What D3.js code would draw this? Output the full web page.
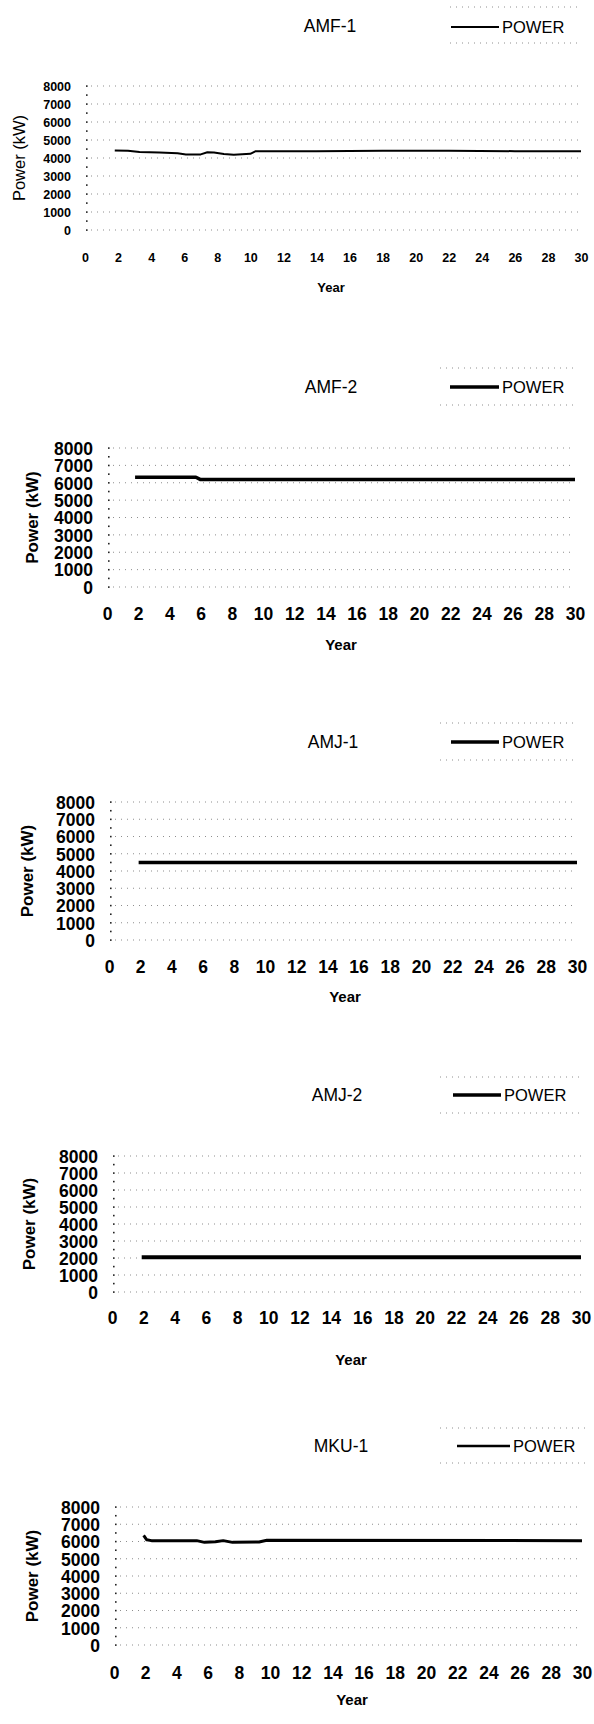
<!DOCTYPE html>
<html><head><meta charset="utf-8">
<script src="https://cdn.jsdelivr.net/npm/d3@7"></script>
<style>
html,body{margin:0;padding:0;background:#fff;}
svg{display:block;}
text{font-family:"Liberation Sans",Arial,sans-serif;fill:#000;}
</style></head>
<body>
<svg id="chart" width="594" height="1724"></svg>
<script>
// ---- data ----
const xTicks = [0,2,4,6,8,10,12,14,16,18,20,22,24,26,28,30];
const yTicks = [0,1000,2000,3000,4000,5000,6000,7000,8000];
const titles = ["AMF-1","AMF-2","AMJ-1","AMJ-2","MKU-1"];
const seriesName = "POWER";
const xLabel = "Year";
const yLabel = "Power (kW)";

const amf1Year  = [1.8, 2.6, 3.3, 4.5, 5.6, 6.1, 7.0, 7.4, 7.8, 8.4, 9.0, 10.0, 10.3, 14, 18, 22, 26, 30];
const amf1Power = [4420,4400,4330,4300,4260,4200,4200,4320,4300,4220,4180,4230,4370,4380,4400,4400,4380,4370];
const amf2Year  = [1.8, 5.7, 6.0, 30];
const amf2Power = [6320,6320,6180,6180];
const amj1Year  = [1.9, 30];
const amj1Power = [4500,4500];
const amj2Year  = [1.9, 30];
const amj2Power = [2050,2050];
const mku1Year  = [1.9, 2.1, 2.4, 5.3, 5.8, 6.5, 7.0, 7.6, 9.3, 9.8, 30];
const mku1Power = [6350,6100,6050,6050,5950,5980,6050,5950,5970,6070,6050];

const seriesYears = [amf1Year, amf2Year, amj1Year, amj2Year, mku1Year];
const seriesPower = [amf1Power, amf2Power, amj1Power, amj2Power, mku1Power];

// ---- layout (positions / styles only) ----
const layout = [
  {x0:85,  x30:581, y0:230,  y8k:86,   tX:330, tY:26,   lL:451, lR:499, lY:27,   bT:7,    bB:43,   bL:450, bR:578, tick:12.5, yr:13, yrX:331, yrY:287,  ytX:19, ytBold:false, ytSize:16.5, lw:2,   llw:2,   tickGap:27},
  {x0:107, x30:575, y0:587,  y8k:448,  tX:331, tY:387,  lL:450, lR:499, lY:387,  bT:368,  bB:405,  bL:440, bR:575, tick:17.5, yr:15, yrX:341, yrY:645,  ytX:32, ytBold:true,  ytSize:17,   lw:3.5, llw:3.5, tickGap:27},
  {x0:109, x30:577, y0:940,  y8k:802,  tX:333, tY:742,  lL:451, lR:499, lY:742,  bT:723,  bB:760,  bL:440, bR:577, tick:17.5, yr:15, yrX:345, yrY:997,  ytX:27, ytBold:true,  ytSize:17,   lw:3.5, llw:3.5, tickGap:27},
  {x0:112, x30:581, y0:1292, y8k:1156, tX:337, tY:1095, lL:453, lR:501, lY:1095, bT:1077, bB:1113, bL:440, bR:579, tick:17.5, yr:15, yrX:351, yrY:1360, ytX:29, ytBold:true,  ytSize:17,   lw:4,   llw:3.5, tickGap:26},
  {x0:114, x30:582, y0:1645, y8k:1507, tX:341, tY:1446, lL:457, lR:510, lY:1446, bT:1428, bB:1463, bL:440, bR:585, tick:17.5, yr:15, yrX:352, yrY:1700, ytX:32, ytBold:true,  ytSize:17,   lw:3,   llw:2.5, tickGap:28}
];

const svg = d3.select("#chart");

layout.forEach((L, i) => {
  const g = svg.append("g");
  const x = d3.scaleLinear().domain([0,30]).range([L.x0, L.x30]);
  const y = d3.scaleLinear().domain([0,8000]).range([L.y0, L.y8k]);

  // gridlines
  g.selectAll("line.grid").data(yTicks).join("line")
    .attr("x1", x(0) + 6).attr("x2", x(30))
    .attr("y1", d => y(d)).attr("y2", d => y(d))
    .attr("stroke", "#333").attr("stroke-width", 1)
    .attr("stroke-dasharray", "1,5").attr("opacity", 0.55);

  // dotted y axis (dots every 500)
  g.selectAll("rect.ydot").data(y.ticks(16)).join("rect")
    .attr("x", x(0) + 1).attr("y", d => y(d) - 0.7)
    .attr("width", 1.6).attr("height", 1.6).attr("fill", "#222");

  // y tick labels
  const yAxis = d3.axisLeft(y).tickValues(yTicks).tickSize(0).tickPadding(0).tickFormat(d3.format("d"));
  const ya = g.append("g").attr("transform", `translate(${x(0) - 14},0)`).call(yAxis);
  ya.select(".domain").remove();
  ya.selectAll("text").attr("font-size", L.tick).attr("font-weight", "bold")
    .attr("font-family", '"Liberation Sans",Arial,sans-serif').attr("fill", "#000").attr("dy", "0.36em");

  // x tick labels
  const xAxis = d3.axisBottom(x).tickValues(xTicks).tickSize(0).tickPadding(0).tickFormat(d3.format("d"));
  const xa = g.append("g").attr("transform", `translate(0,${L.y0 + L.tickGap})`).call(xAxis);
  xa.select(".domain").remove();
  xa.selectAll("text").attr("font-size", L.tick).attr("font-weight", "bold")
    .attr("font-family", '"Liberation Sans",Arial,sans-serif').attr("fill", "#000").attr("dy", "0.36em").attr("y", 0);

  // axis titles
  g.append("text").attr("x", L.yrX).attr("y", L.yrY).attr("dy", "0.36em")
    .attr("text-anchor", "middle").attr("font-size", L.yr).attr("font-weight", "bold").text(xLabel);
  g.append("text")
    .attr("transform", `translate(${L.ytX},${(L.y0 + L.y8k) / 2}) rotate(-90)`)
    .attr("dy", "0.36em").attr("text-anchor", "middle")
    .attr("font-size", L.ytSize).attr("font-weight", L.ytBold ? "bold" : "normal").text(yLabel);

  // title
  g.append("text").attr("x", L.tX).attr("y", L.tY).attr("dy", "0.36em")
    .attr("text-anchor", "middle").attr("font-size", 17.5).text(titles[i]);

  // legend
  [L.bT, L.bB].forEach(by => {
    g.append("line").attr("x1", L.bL).attr("x2", L.bR).attr("y1", by).attr("y2", by)
      .attr("stroke", "#444").attr("stroke-dasharray", "1,5").attr("opacity", 0.6);
  });
  g.append("line").attr("x1", L.lL).attr("x2", L.lR).attr("y1", L.lY).attr("y2", L.lY)
    .attr("stroke", "#000").attr("stroke-width", L.llw);
  g.append("text").attr("x", L.lR + 3).attr("y", L.lY).attr("dy", "0.36em")
    .attr("font-size", 16.5).text(seriesName);

  // power line
  const pts = seriesYears[i].map((yr, k) => [yr, seriesPower[i][k]]);
  g.append("path").datum(pts)
    .attr("d", d3.line().x(d => x(d[0])).y(d => y(d[1])))
    .attr("fill", "none").attr("stroke", "#000").attr("stroke-width", L.lw)
    .attr("stroke-linejoin", "round");
});
</script>
</body></html>
